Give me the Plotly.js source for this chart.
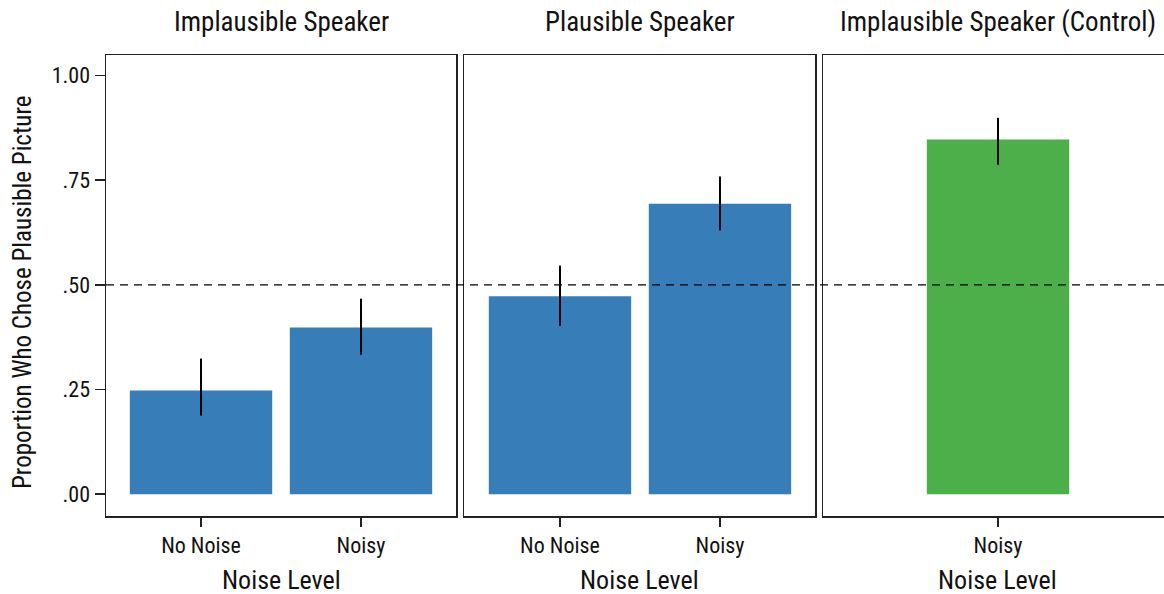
<!DOCTYPE html>
<html>
<head>
<meta charset="utf-8">
<script src="https://cdn.plot.ly/plotly-3.0.1.min.js"></script>
<style>html,body{margin:0;padding:0;background:#fff;}#chart{width:1164px;height:594px;}</style>
</head>
<body>
<div id="chart"></div>
<script>
// ---- data ----
const panelTitles = ['Implausible Speaker', 'Plausible Speaker', 'Implausible Speaker (Control)'];
const categories1 = ['No Noise', 'Noisy'];
const values1 = [0.248, 0.398];
const upper1 = [0.324, 0.467];
const lower1 = [0.188, 0.333];

const categories2 = ['No Noise', 'Noisy'];
const values2 = [0.473, 0.694];
const upper2 = [0.546, 0.759];
const lower2 = [0.402, 0.630];

const categories3 = ['Noisy'];
const values3 = [0.847];
const upper3 = [0.899];
const lower3 = [0.787];

const yTickVals = [0, 0.25, 0.5, 0.75, 1];
const yTickText = ['.00', '.25', '.50', '.75', '1.00'];
const chanceLevel = 0.5;
const xTitle = 'Noise Level';
const yTitle = 'Proportion Who Chose Plausible Picture';

// ---- styling ----
const FONT = "'Liberation Sans Narrow', 'Arial Narrow', 'Roboto Condensed', sans-serif";
const BLUE = '#377EB8';
const GREEN = '#4DAF4A';
const LINE = '#222222';
const W = 1164, H = 594;
const L = 106, R = 0, T = 55, B = 78;
const pw = W - L - R, ph = H - T - B;
const px = v => (v - L) / pw;
const doms = [[px(106), px(456)], [px(464), px(815)], [px(823), 1]];

function barTrace(cats, vals, up, lo, color, xa, ya) {
  return {
    type: 'bar', x: cats, y: vals, xaxis: xa, yaxis: ya,
    width: 0.89, marker: {color: color, line: {width: 0}},
    error_y: {
      type: 'data', symmetric: false,
      array: vals.map((v, i) => up[i] - v),
      arrayminus: vals.map((v, i) => v - lo[i]),
      width: 0, thickness: 2, color: '#000'
    },
    hoverinfo: 'none', showlegend: false
  };
}

const data = [
  barTrace(categories1, values1, upper1, lower1, BLUE, 'x', 'y'),
  barTrace(categories2, values2, upper2, lower2, BLUE, 'x2', 'y2'),
  barTrace(categories3, values3, upper3, lower3, GREEN, 'x3', 'y3')
];

const yRange = [-0.052, 1.049];
function xAxis(dom, range, mirror) {
  return {
    domain: dom, range: range, type: 'category',
    showline: true, linecolor: LINE, linewidth: 1.5, mirror: mirror,
    ticks: 'outside', ticklen: 9, tickwidth: 1.5, tickcolor: LINE,
    tickfont: {family: FONT, size: 22, color: '#111'},
    showgrid: false, zeroline: false, fixedrange: true
  };
}
function yAxis(anchor, showLabels, mirror) {
  return {
    anchor: anchor, range: yRange,
    showline: true, linecolor: LINE, linewidth: 1.5, mirror: mirror,
    tickvals: yTickVals, ticktext: yTickText,
    ticks: showLabels ? 'outside' : '', ticklen: 10, tickwidth: 1.5, tickcolor: LINE,
    showticklabels: showLabels,
    tickfont: {family: FONT, size: 22, color: '#111'},
    showgrid: false, zeroline: false, fixedrange: true
  };
}

const annotations = [];
doms.forEach((d, i) => {
  const center = i === 2 ? px(998) : (d[0] + d[1]) / 2;
  annotations.push({
    text: panelTitles[i], xref: 'paper', yref: 'paper', x: center, y: 1,
    xanchor: 'center', yanchor: 'middle', yshift: 33, showarrow: false,
    font: {family: FONT, size: 27, color: '#111'}
  });
  annotations.push({
    text: xTitle, xref: 'paper', yref: 'paper', x: center, y: -(580 - 516) / ph,
    xanchor: 'center', yanchor: 'middle', showarrow: false,
    font: {family: FONT, size: 26, color: '#111'}
  });
});
annotations.push({
  text: yTitle, xref: 'paper', yref: 'paper', x: px(22), y: (516 - 292) / ph,
  xanchor: 'center', yanchor: 'middle', textangle: -90, showarrow: false,
  font: {family: FONT, size: 25, color: '#111'}
});

const layout = {
  width: W, height: H,
  margin: {l: L, r: R, t: T, b: B, pad: 0},
  paper_bgcolor: '#fff', plot_bgcolor: '#fff',
  font: {family: FONT},
  xaxis: xAxis(doms[0], [-0.594, 1.594], true),
  xaxis2: xAxis(doms[1], [-0.6, 1.594], true),
  xaxis3: xAxis(doms[2], [-1.094, 1.0375], true),
  yaxis: yAxis('x', true, true),
  yaxis2: yAxis('x2', false, true),
  yaxis3: yAxis('x3', false, false),
  annotations: annotations,
  shapes: [{
    type: 'line', xref: 'paper', yref: 'y', x0: 0, x1: 1, y0: chanceLevel, y1: chanceLevel,
    line: {color: '#000', width: 1.2, dash: '8px,6px'}, layer: 'above'
  }]
};

Plotly.newPlot('chart', data, layout, {displayModeBar: false, staticPlot: true});
</script>
</body>
</html>
